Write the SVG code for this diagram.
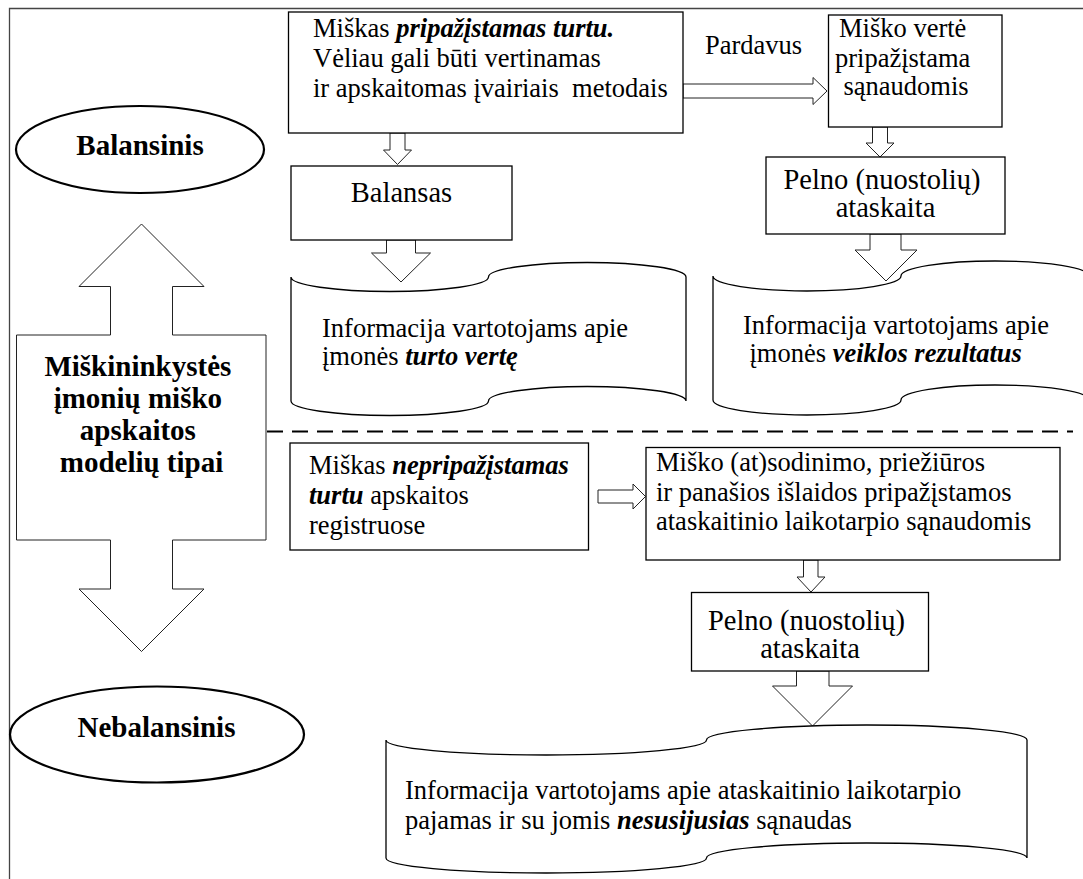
<svg xmlns="http://www.w3.org/2000/svg" width="1083" height="879" viewBox="0 0 1083 879">
<style>
  text { font-family: 'Liberation Serif', Tinos, 'Times New Roman', Times, 'DejaVu Serif', serif; fill: #000; }
  .t { font-size: 26.5px; }
  .tl { font-size: 28.5px; }
  .tb { font-size: 29px; font-weight: bold; }
  .bi { font-weight: bold; font-style: italic; }
  .pre { white-space: pre; }
  .box { fill: #fff; stroke: #000; stroke-width: 1.3; }
  .ell { fill: #fff; stroke: #000; stroke-width: 2.2; }
  .arr { fill: #fff; stroke: #222; stroke-width: 1; stroke-linejoin: miter; }
  .frame { fill: none; stroke: #444; stroke-width: 1.3; }
  .dash { fill: none; stroke: #000; stroke-width: 2; stroke-dasharray: 16 9; }
</style>
<rect x="0" y="0" width="1083" height="879" fill="#fff"/>
<path class="frame" d="M9.5,879 V8.5 H1083"/>

<g id="connectors">
  <polygon class="arr" points="390,133 405,133 405,150 411.5,150 397.5,164.5 383.5,150 390,150"/>
  <polygon class="arr" points="386.5,240 415.5,240 415.5,253 430.5,253 401,282 371.5,253 386.5,253"/>
  <polygon class="arr" points="683,84 813,84 813,77.5 827,91 813,104.5 813,98 683,98"/>
  <text class="t" x="705" y="54">Pardavus</text>
  <polygon class="arr" points="872.5,127 887.5,127 887.5,143 894,143 880,157 866,143 872.5,143"/>
  <polygon class="arr" points="870,234 901,234 901,250 917,250 886,281 855,250 870,250"/>
  <path class="dash" d="M267,431.5 H1073"/>
  <polygon class="arr" points="598,490 633,490 633,484 645.5,496.5 633,509 633,503 598,503"/>
  <polygon class="arr" points="803.5,560 818,560 818,577 825,577 811,592 797,577 803.5,577"/>
  <polygon class="arr" points="796.5,671 829,671 829,686 852.5,686 812.5,726 772.5,686 796.5,686"/>
</g>

<g id="node-balansinis">
  <ellipse class="ell" cx="140" cy="149.5" rx="124" ry="43.5"/>
  <text class="tb" x="140" y="155" text-anchor="middle">Balansinis</text>
</g>

<g id="node-nebalansinis">
  <ellipse class="ell" cx="157" cy="734.5" rx="147" ry="48"/>
  <text class="tb" x="156.5" y="737" text-anchor="middle">Nebalansinis</text>
</g>

<g id="node-tipai">
  <polygon class="arr" points="141.5,224 204,286.5 172.5,286.5 172.5,335 266,335 266,540 172.5,540 172.5,589 204,589 141.5,651.5 79,589 110.5,589 110.5,540 16.5,540 16.5,335 110.5,335 110.5,286.5 79,286.5"/>
  <text class="tb" text-anchor="middle">
    <tspan x="141.5" y="376">Miškininkystės</tspan>
    <tspan x="141.5" y="408">įmonių miško</tspan>
    <tspan x="141.5" y="440">apskaitos</tspan>
    <tspan x="141.5" y="472">modelių tipai</tspan>
  </text>
</g>

<g id="node-pripazistamas">
  <rect class="box" x="288.5" y="12" width="394.5" height="121"/>
  <text class="t">
    <tspan x="313" y="36.5">Miškas <tspan class="bi">pripažįstamas turtu.</tspan></tspan>
    <tspan x="313" y="66.5">Vėliau gali būti vertinamas</tspan>
  </text>
  <text class="t pre" x="313" y="96.5" xml:space="preserve">ir apskaitomas įvairiais  metodais</text>
</g>

<g id="node-balansas">
  <rect class="box" x="291" y="166" width="221" height="74"/>
  <text class="tl" x="401.5" y="202" text-anchor="middle">Balansas</text>
</g>

<g id="node-info-turtas">
  <path class="box" d="M291,277 A98.75,14.5 0 0 0 488.5,277 A98.75,14.5 0 0 1 686,277 L686,401 A98.75,14.5 0 0 0 488.5,401 A98.75,14.5 0 0 1 291,401 Z"/>
  <text class="t">
    <tspan x="322" y="337">Informacija vartotojams apie</tspan>
    <tspan x="322" y="365">įmonės <tspan class="bi">turto vertę</tspan></tspan>
  </text>
</g>

<g id="node-misko-verte">
  <rect class="box" x="828.5" y="15" width="173.5" height="112"/>
  <text class="t" text-anchor="middle">
    <tspan x="906" y="37">Miško vertė</tspan>
    <tspan x="906" y="66.5">pripažįstama</tspan>
    <tspan x="906" y="95">sąnaudomis</tspan>
  </text>
</g>

<g id="node-pelno-1">
  <rect class="box" x="766" y="157" width="239" height="77"/>
  <text class="tl" text-anchor="middle">
    <tspan x="885.5" y="189">Pelno (nuostolių)</tspan>
    <tspan x="885.5" y="217">ataskaita</tspan>
  </text>
</g>

<g id="node-info-veikla">
  <path class="box" d="M713,276 A94,15 0 0 0 901,276 A94,15 0 0 1 1089,276 L1089,400 A94,15 0 0 0 901,400 A94,15 0 0 1 713,400 Z"/>
  <text class="t">
    <tspan x="743" y="334">Informacija vartotojams apie</tspan>
    <tspan x="749.5" y="362">įmonės <tspan class="bi">veiklos rezultatus</tspan></tspan>
  </text>
</g>

<g id="node-nepripazistamas">
  <rect class="box" x="290" y="443" width="298.5" height="107"/>
  <text class="t">
    <tspan x="309" y="473.5">Miškas <tspan class="bi">nepripažįstamas</tspan></tspan>
    <tspan x="309" y="503.5"><tspan class="bi">turtu</tspan> apskaitos</tspan>
    <tspan x="309" y="533.5">registruose</tspan>
  </text>
</g>

<g id="node-islaidos">
  <rect class="box" x="646" y="447.5" width="414" height="112.5"/>
  <text class="t">
    <tspan x="656" y="471">Miško (at)sodinimo, priežiūros</tspan>
    <tspan x="656" y="501">ir panašios išlaidos pripažįstamos</tspan>
    <tspan x="656" y="530">ataskaitinio laikotarpio sąnaudomis</tspan>
  </text>
</g>

<g id="node-pelno-2">
  <rect class="box" x="691.5" y="592.5" width="237" height="78.5"/>
  <text class="tl" text-anchor="middle">
    <tspan x="810" y="630">Pelno (nuostolių)</tspan>
    <tspan x="810" y="658">ataskaita</tspan>
  </text>
</g>

<g id="node-info-pajamos">
  <path class="box" d="M386,740 A160.25,15 0 0 0 706.5,740 A160.25,15 0 0 1 1027,740 L1027,858 A160.25,15 0 0 0 706.5,858 A160.25,15 0 0 1 386,858 Z"/>
  <text class="t">
    <tspan x="405" y="799">Informacija vartotojams apie ataskaitinio laikotarpio</tspan>
    <tspan x="405" y="829">pajamas ir su jomis <tspan class="bi">nesusijusias</tspan> sąnaudas</tspan>
  </text>
</g>
</svg>
